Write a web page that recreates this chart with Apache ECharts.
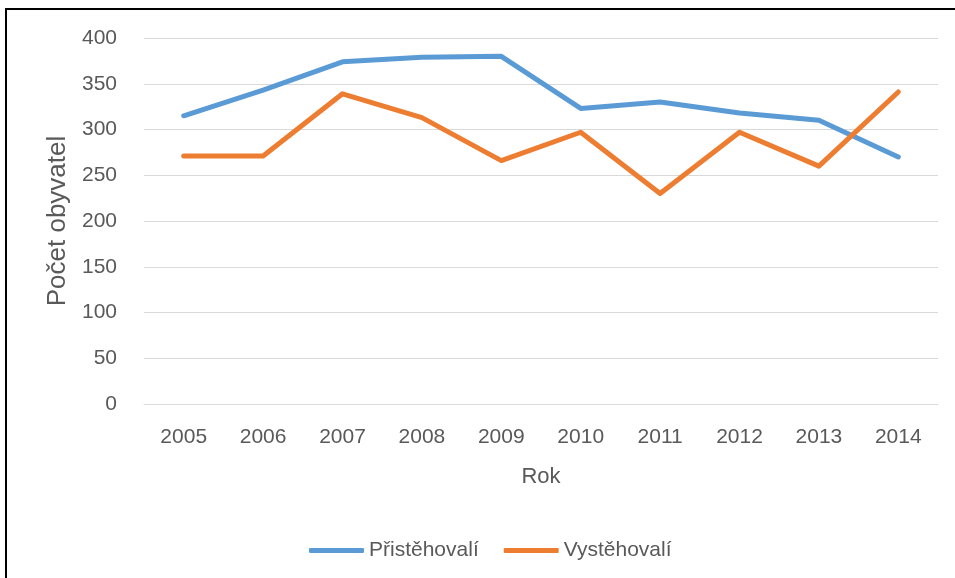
<!DOCTYPE html>
<html>
<head>
<meta charset="utf-8">
<script src="https://cdn.jsdelivr.net/npm/echarts@6/dist/echarts.min.js"></script>
<style>
  html, body { margin: 0; padding: 0; background: #fff; }
  #frame {
    position: absolute; left: 5px; top: 8px; width: 960px; height: 580px;
    border-left: 2px solid #000; border-top: 2px solid #000; box-sizing: border-box;
    pointer-events: none;
  }
  #chart { width: 955px; height: 578px; }
</style>
</head>
<body>
<div id="chart"></div>
<div id="frame"></div>
<script>
const years = ['2005', '2006', '2007', '2008', '2009', '2010', '2011', '2012', '2013', '2014']
const prist = [315, 343, 374, 379, 380, 323, 330, 318, 310, 270]
const vyst = [271, 271, 339, 313, 266, 297, 230, 297, 260, 341]

const chart = echarts.init(document.getElementById('chart'))
const font = 'Liberation Sans, Arial, sans-serif'
const txt = '#595959'

const option = {
  animation: false,
  color: ['#5B9BD5', '#ED7D31'],
  textStyle: { fontFamily: font },
  grid: { left: 144, right: 17, top: 38, bottom: 174 },
  legend: {
    left: 304,
    top: 535,
    itemWidth: 55,
    itemHeight: 5,
    itemGap: 25,
    icon: 'roundRect',
    textStyle: { fontSize: 21, color: txt, fontFamily: font },
    data: ['Přistěhovalí', 'Vystěhovalí']
  },
  xAxis: {
    type: 'category',
    data: years,
    boundaryGap: true,
    name: 'Rok',
    nameLocation: 'middle',
    nameGap: 62,
    nameTextStyle: { fontSize: 22, color: txt },
    axisLine: { lineStyle: { color: '#D9D9D9' } },
    axisTick: { show: false },
    axisLabel: { fontSize: 21, color: txt, margin: 23 }
  },
  yAxis: {
    type: 'value',
    min: 0,
    max: 400,
    interval: 50,
    name: 'Počet obyvatel',
    nameLocation: 'middle',
    nameGap: 73,
    nameTextStyle: { fontSize: 26, color: txt },
    axisLine: { show: false },
    axisTick: { show: false },
    axisLabel: { fontSize: 21, color: txt, margin: 27 },
    splitLine: { lineStyle: { color: '#D9D9D9', width: 1 } }
  },
  series: [
    {
      name: 'Přistěhovalí',
      type: 'line',
      data: prist,
      symbol: 'none',
      lineStyle: { width: 5, cap: 'round', join: 'round' }
    },
    {
      name: 'Vystěhovalí',
      type: 'line',
      data: vyst,
      symbol: 'none',
      lineStyle: { width: 5, cap: 'round', join: 'round' }
    }
  ]
}

chart.setOption(option)
</script>
</body>
</html>
